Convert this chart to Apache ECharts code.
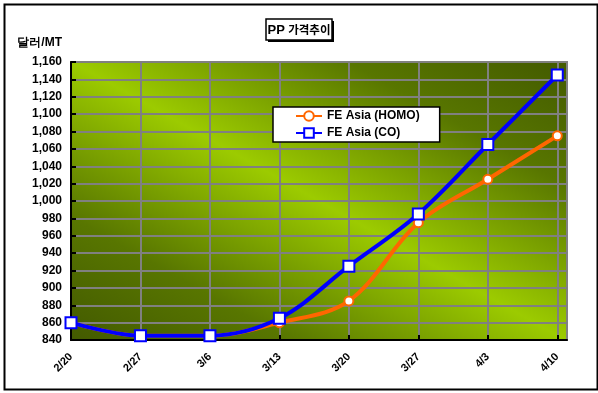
<!DOCTYPE html>
<html>
<head>
<meta charset="utf-8">
<script src="https://cdn.jsdelivr.net/npm/echarts@6/dist/echarts.min.js"></script>
<style>
html,body{margin:0;padding:0;background:#fff;}
#c{width:598px;height:393px;}
</style>
</head>
<body>
<div id="c"></div>
<script>
const categories = ['2/20','2/27','3/6','3/13','3/20','3/27','4/3','4/10'];
const homoValues = [860, 845, 845, 860, 885, 975, 1025, 1075];
const coValues = [860, 845, 845, 865, 925, 985, 1065, 1145];
const seriesNames = ['FE Asia (HOMO)', 'FE Asia (CO)'];
const yMin = 840, yMax = 1160, yStep = 20;
const titleLatin = 'PP';
const titleKorean = '가격추이';
const yUnit = '달러/MT';

const font = '"Liberation Sans", Arial, sans-serif';
const chart = echarts.init(document.getElementById('c'), null, {renderer:'canvas'});

const bg = {
  type: 'linear', global: true,
  x: 200, y: 412, x2: 438, y2: -10,
  colorStops: [
    {offset: 0, color: '#435a00'},
    {offset: 0.22, color: '#587600'},
    {offset: 0.5, color: '#9ccb00'},
    {offset: 0.78, color: '#587600'},
    {offset: 1, color: '#435a00'}
  ]
};

chart.setOption({
  animation: false,
  backgroundColor: '#ffffff',
  grid: {
    left: 71, top: 62, right: 31, bottom: 53,
    show: true, backgroundColor: bg, borderColor: '#808080', borderWidth: 2
  },
  graphic: [
    {type:'rect', left: 2, top: 2, shape:{width:593, height:385},
     style:{fill:'none', stroke:'#000', lineWidth:2}, z: 100},
    {type:'rect', shape:{x:268, y:21, width:66, height:21}, style:{fill:'#000'}, z:99},
    {type:'rect', shape:{x:266, y:19, width:66, height:21}, style:{fill:'#fff', stroke:'#000', lineWidth:1.5}, z:100},
    {type:'text', x: 299, y: 30, z: 101,
     style:{
       text: '{a|' + titleLatin + '} {b|' + titleKorean + '}',
       align:'center', verticalAlign:'middle',
       rich: {
         a: {fill:'#000', font:'bold 13px ' + font},
         b: {fill:'#000', font:'bold 11.5px "Noto Sans CJK KR", sans-serif'}
       }
     }}
  ],
  legend: {
    left: 273, top: 107,
    orient: 'vertical',
    backgroundColor: '#fff', borderColor: '#000', borderWidth: 1.5,
    padding: [3, 20, 3, 22],
    itemGap: 5, itemWidth: 26, itemHeight: 12,
    textStyle: {fontFamily: font, fontWeight: 'bold', fontSize: 12, color: '#000'},
    data: seriesNames
  },
  xAxis: {
    type: 'value', min: 0, max: 7.14, interval: 1,
    axisLine: {show: true, lineStyle: {color: '#000', width: 2}},
    axisTick: {show: true, inside: true, length: 5, lineStyle: {color: '#000', width: 2}},
    splitLine: {show: true, lineStyle: {color: '#808080', width: 2}},
    axisLabel: {
      rotate: 45, margin: 15, color: '#000', fontFamily: font, fontWeight: 'bold', fontSize: 11,
      showMaxLabel: false,
      formatter: v => (Number.isInteger(v) && categories[v] !== undefined) ? categories[v] : ''
    }
  },
  yAxis: {
    type: 'value', min: yMin, max: yMax, interval: yStep,
    name: yUnit, nameLocation: 'end', nameGap: 13,
    nameTextStyle: {align: 'right', padding: [0, 9, 0, 0], color: '#000', fontFamily: font, fontWeight: 'bold', fontSize: 12},
    axisLine: {show: true, lineStyle: {color: '#000', width: 2}},
    axisTick: {show: true, inside: true, length: 5, lineStyle: {color: '#000', width: 2}},
    splitLine: {show: true, lineStyle: {color: '#808080', width: 2}},
    axisLabel: {
      margin: 9, color: '#000', fontFamily: font, fontWeight: 'bold', fontSize: 12,
      formatter: v => v.toLocaleString('en-US')
    }
  },
  series: [
    {
      name: seriesNames[0], type: 'line', smooth: 0.35,
      data: homoValues.map((v, i) => [i, v]),
      symbol: 'circle', symbolSize: 9,
      lineStyle: {color: '#ff6600', width: 4},
      itemStyle: {color: '#ffffff', borderColor: '#ff6600', borderWidth: 2},
      z: 2
    },
    {
      name: seriesNames[1], type: 'line', smooth: 0.35,
      data: coValues.map((v, i) => [i, v]),
      symbol: 'rect', symbolSize: 11,
      lineStyle: {color: '#0000ff', width: 4},
      itemStyle: {color: '#ffffff', borderColor: '#0000ff', borderWidth: 2},
      z: 3
    }
  ]
});
</script>
</body>
</html>
